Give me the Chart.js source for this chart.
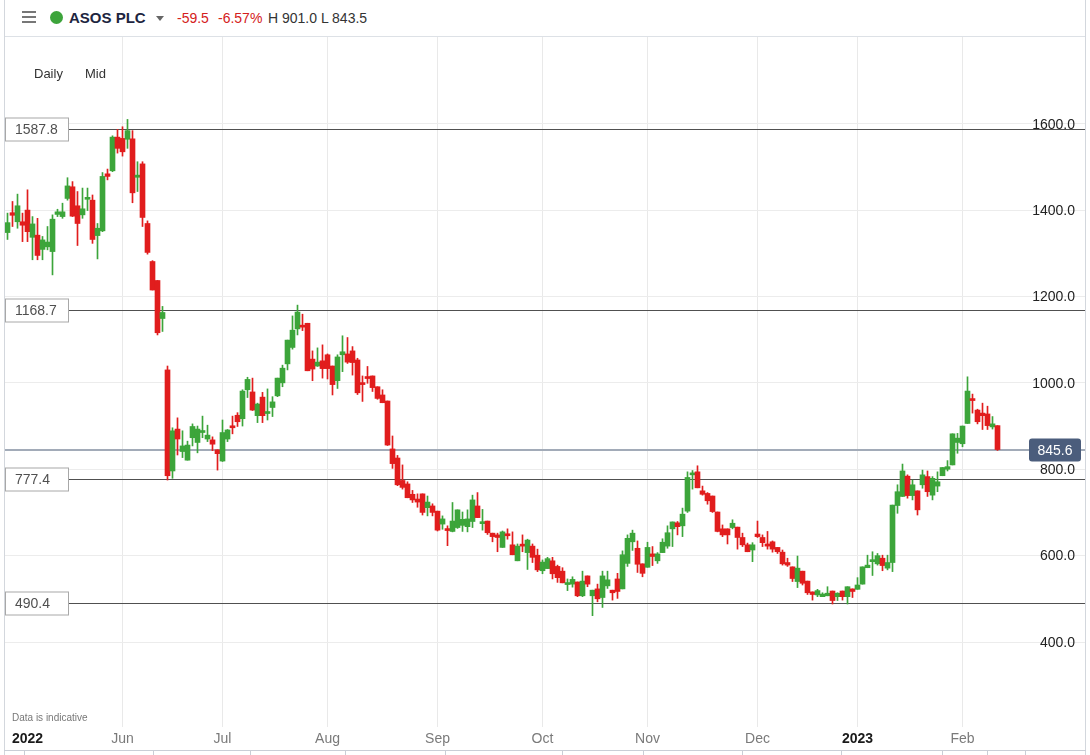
<!DOCTYPE html>
<html>
<head>
<meta charset="utf-8">
<script src="https://cdn.jsdelivr.net/npm/chart.js@4.4.1/dist/chart.umd.min.js"></script>
<style>
  html, body { margin:0; padding:0; }
  body { width:1090px; height:755px; overflow:hidden; background:#fff; position:relative;
         font-family:'Liberation Sans', Arial, Helvetica, sans-serif; }
  .abs { position:absolute; white-space:nowrap; }
  .t14 { font-size:14px; line-height:14px; }
</style>
</head>
<body>
<!-- header -->
<div class="abs" style="left:22px;top:11px;width:14px;height:2px;background:#777"></div>
<div class="abs" style="left:22px;top:16px;width:14px;height:2px;background:#777"></div>
<div class="abs" style="left:22px;top:21px;width:14px;height:2px;background:#777"></div>
<div class="abs" style="left:50px;top:10.5px;width:13px;height:13px;border-radius:50%;background:#3da43b"></div>
<div class="abs" style="left:69px;top:10px;font-size:15px;line-height:15px;font-weight:bold;color:#1d2540">ASOS PLC</div>
<div class="abs" style="left:156px;top:16px;width:0;height:0;border-left:4px solid transparent;border-right:4px solid transparent;border-top:5px solid #666"></div>
<div class="abs t14" style="left:177px;top:11px;color:#d42020">-59.5</div>
<div class="abs t14" style="left:218px;top:11px;color:#d42020">-6.57%</div>
<div class="abs t14" style="left:268px;top:11px;color:#333">H 901.0 L 843.5</div>
<div class="abs" style="left:4px;top:36px;width:1082px;height:1px;background:#dde1e6"></div>

<!-- chart -->
<div class="abs" style="left:0;top:37px;width:1090px;height:718px"><canvas id="c"></canvas></div>

<!-- overlays -->
<div class="abs" style="left:34px;top:67px;font-size:13px;line-height:13px;color:#333">Daily</div>
<div class="abs" style="left:85px;top:67px;font-size:13px;line-height:13px;color:#333">Mid</div>
<div class="abs" style="left:12px;top:713px;font-size:10px;line-height:10px;color:#777">Data is indicative</div>

<!-- frame borders -->
<div class="abs" style="left:4px;top:0;width:1px;height:755px;background:#d3d7dd"></div>
<div class="abs" style="left:1085px;top:0;width:1px;height:755px;background:#d3d7dd"></div>
<div class="abs" style="left:4px;top:750px;width:1082px;height:1px;background:#c9ced6"></div>
<div id="navticks"></div>

<script>
// ---------------- DATA ----------------
const symbol = 'ASOS PLC';
// trading sessions per month segment (first segment = late Apr/May 2022)
const monthNames = ['', 'Jun', 'Jul', 'Aug', 'Sep', 'Oct', 'Nov', 'Dec', '2023', 'Feb'];
const monthDays  = [23, 20, 21, 22, 21, 21, 22, 20, 21, 8];
const firstYearLabel = '2022';

const opens = [
 1348,1394,1373,1373,1400,1337,1342,1309,1315,1304,1390,1385,1427,1454,1410,1389,1425,1423,1341,1352,
 1484,1491,1569,1566,1564,1565,1476,1507,1369,1281,1237,1149,1030,796,893,841,821,873,862,885,
 870,868,845,819,870,900,925,917,984,979,924,967,929,943,970,1000,1044,1082,1125,1132,
 1138,1055,1039,1051,1065,1039,1005,1065,1067,1074,1053,1000,1014,1016,991,972,958,847,826,774,
 766,742,731,743,711,715,703,673,662,656,665,670,667,679,715,674,680,652,648,619,
 650,625,588,625,607,622,601,565,570,588,575,564,533,534,539,507,553,507,523,503,
 530,520,546,523,582,632,617,581,573,604,588,607,622,662,676,669,703,787,794,750,
 744,738,701,662,662,665,666,642,625,613,650,642,627,632,619,608,584,574,540,564,
 541,516,509,505,507,518,505,518,505,523,522,534,572,586,581,594,571,584,716,737,
 784,739,750,764,783,740,761,785,800,810,862,859,906,962,937,930,928,898,901
];
const highs = [
 1393,1420,1437,1393,1447,1385,1381,1339,1362,1389,1402,1416,1475,1466,1443,1451,1451,1435,1369,1487,
 1495,1572,1587,1593,1610,1584,1512,1512,1375,1283,1237,1177,1039,896,919,889,865,905,900,923,
 902,875,845,914,892,923,931,984,1013,1011,953,978,986,968,1011,1041,1099,1155,1180,1159,
 1138,1074,1081,1088,1067,1039,1065,1109,1105,1084,1057,1016,1038,1016,991,984,958,877,832,810,
 771,751,743,743,738,720,703,692,669,723,706,701,706,740,746,707,680,652,652,657,
 662,655,627,648,638,627,615,590,596,596,578,572,546,551,539,564,553,520,534,564,
 564,520,559,611,648,659,634,581,631,621,607,639,669,678,679,710,794,797,808,761,
 746,738,701,671,662,683,666,652,629,630,680,648,656,634,619,613,594,574,599,564,
 541,516,522,514,528,518,514,518,528,523,549,574,601,609,605,601,601,717,764,812,
 787,775,750,798,796,783,794,804,820,882,883,900,1014,974,939,953,946,922,901
];
const lows = [
 1332,1362,1358,1327,1327,1285,1285,1285,1308,1250,1385,1381,1423,1385,1318,1381,1399,1323,1287,1350,
 1470,1489,1532,1525,1543,1417,1443,1362,1298,1215,1111,1119,775,779,833,827,821,854,838,873,
 864,843,798,818,864,882,899,900,966,936,908,908,914,922,968,991,1030,1078,1111,1121,
 1028,1005,1038,1011,1009,972,987,1026,1045,1018,973,957,999,980,962,954,855,802,762,754,
 734,723,712,694,692,692,657,661,623,655,663,656,655,665,688,659,649,632,609,619,
 638,602,588,609,568,584,563,558,570,546,538,537,519,527,505,505,528,461,493,480,
 524,497,501,523,575,612,561,551,573,577,582,607,617,621,648,644,700,754,757,740,
 719,700,655,644,627,662,615,621,609,586,642,621,615,608,605,578,575,540,526,532,
 510,497,505,505,507,488,496,497,488,503,522,534,572,554,578,565,567,563,698,737,
 733,729,694,756,737,729,748,785,796,810,837,852,906,930,905,892,892,893,843.5
];
const closes = [
 1371,1388,1410,1365,1350,1368,1295,1331,1326,1379,1396,1396,1456,1386,1369,1403,1428,1332,1358,1478,
 1478,1569,1543,1535,1584,1440,1481,1383,1302,1215,1116,1163,785,889,870,854,856,899,893,889,
 879,858,836,885,891,896,910,981,1008,937,951,924,933,956,1011,1034,1099,1122,1164,1129,
 1028,1032,1048,1033,1033,996,1060,1072,1048,1047,977,996,1010,989,964,954,856,813,764,758,
 734,729,724,700,724,700,659,685,658,680,706,684,685,729,688,676,653,644,642,655,
 646,602,622,622,636,596,567,585,593,558,549,537,537,545,507,541,534,520,500,553,
 544,514,517,602,640,652,580,559,619,598,604,631,653,678,667,696,781,789,757,742,
 727,702,656,648,648,675,642,625,609,625,644,630,622,615,609,581,578,547,571,536,
 514,510,519,511,513,496,513,505,528,517,532,574,578,590,600,577,584,717,748,796,
 739,764,706,787,748,779,771,804,806,882,872,900,981,959,910,924,901,905.1,845.6
];
// reference levels drawn on the chart
const levelLines = [1587.8, 1168.7, 777.4, 490.4];
const lastPrice = 845.6;
const yTickValues = [400, 600, 800, 1000, 1200, 1400, 1600];

// ---------------- BUILD ----------------
const GREEN = '#3ca53a', RED = '#e11d1d';
const labels = [];
monthNames.forEach((m, mi) => {
  for (let d = 0; d < monthDays[mi]; d++) labels.push(d === 0 ? m : '');
});
const emptyRightSessions = 17;               // blank space to the right of the last candle
for (let i = 0; i < emptyRightSessions; i++) labels.push('');
const yearLabelIndex = 4;                     // where the first-year label sits
labels[yearLabelIndex] = firstYearLabel;

const colors = opens.map((o, i) => closes[i] >= o ? GREEN : RED);
const bodies = opens.map((o, i) => [o, closes[i]]);
const wicks  = lows.map((l, i) => [l, highs[i]]);

const FONT = "'Liberation Sans', Arial, Helvetica, sans-serif";

const levelsPlugin = {
  id: 'levels',
  beforeDatasetsDraw(chart) {
    const {ctx, chartArea: a, scales: {y}} = chart;
    ctx.save();
    ctx.beginPath(); ctx.rect(a.left, a.top, a.right - a.left, a.bottom - a.top); ctx.clip();
    // price tick labels (right side, inside plot)
    ctx.font = '14px ' + FONT;
    ctx.fillStyle = '#222'; ctx.textAlign = 'right'; ctx.textBaseline = 'middle';
    y.ticks.forEach(t => {
      ctx.fillText(Number(t.value).toFixed(1), a.right - 10, y.getPixelForValue(t.value) + 1);
    });
    ctx.strokeStyle = '#505050'; ctx.lineWidth = 1;
    levelLines.forEach(v => {
      const py = Math.round(y.getPixelForValue(v)) + 0.5;
      ctx.beginPath(); ctx.moveTo(a.left, py); ctx.lineTo(a.right, py); ctx.stroke();
    });
    const pp = Math.round(y.getPixelForValue(lastPrice));
    ctx.strokeStyle = '#a2abb8'; ctx.lineWidth = 2;
    ctx.beginPath(); ctx.moveTo(a.left, pp); ctx.lineTo(a.right, pp); ctx.stroke();
    ctx.restore();
  },
  afterDatasetsDraw(chart) {
    const {ctx, chartArea: a, scales: {y}} = chart;
    ctx.save();
    ctx.font = '14px ' + FONT;
    ctx.textBaseline = 'middle';
    levelLines.forEach(v => {
      const py = Math.round(y.getPixelForValue(v)) + 0.5;
      ctx.fillStyle = '#fff';
      ctx.fillRect(a.left + 0.5, py - 11.5, 63, 23);
      ctx.strokeStyle = '#a8a8a8'; ctx.lineWidth = 1;
      ctx.strokeRect(a.left + 0.5, py - 11.5, 63, 23);
      ctx.fillStyle = '#505050'; ctx.textAlign = 'left';
      ctx.fillText(v.toFixed(1), a.left + 10, py + 1);
    });
    const pp = Math.round(y.getPixelForValue(lastPrice));
    const bx = 1029, bw = 52, bh = 23;
    ctx.fillStyle = '#4b5d7c';
    ctx.beginPath();
    ctx.roundRect(bx, pp - bh / 2, bw, bh, 3);
    ctx.fill();
    ctx.fillStyle = '#fff'; ctx.textAlign = 'center';
    ctx.fillText(lastPrice.toFixed(1), bx + bw / 2, pp + 1);
    ctx.restore();
  }
};

new Chart(document.getElementById('c'), {
  type: 'bar',
  data: {
    labels,
    datasets: [
      { label: 'wick', data: wicks, backgroundColor: colors, barThickness: 1, grouped: false, order: 2, borderWidth: 0 },
      { label: 'body', data: bodies, backgroundColor: colors, barThickness: 5, grouped: false, order: 1, borderWidth: 0, minBarLength: 2 }
    ]
  },
  options: {
    responsive: true,
    maintainAspectRatio: false,
    animation: false,
    layout: { padding: { left: 5, right: 5, top: 0, bottom: 0 } },
    plugins: { legend: { display: false }, tooltip: { enabled: false } },
    scales: {
      x: {
        type: 'category',
        offset: true,
        grid: {
          offset: false, drawTicks: false,
          color: ctx => (ctx.tick && ctx.tick.label === firstYearLabel) ? 'rgba(0,0,0,0)' : '#e9e9e9'
        },
        border: { display: false },
        afterBuildTicks: s => { s.ticks = labels.map((l, i) => ({ value: i, l })).filter(t => t.l !== '').map(t => ({ value: t.value })); },
        afterFit: s => { s.height = 28; },
        ticks: {
          autoSkip: false, maxRotation: 0, minRotation: 0, padding: 4,
          color: ctx => /^\d{4}$/.test(ctx.tick.label) ? '#1a1a1a' : '#7a7a7a',
          font: ctx => ({ family: FONT, size: 14, weight: /^\d{4}$/.test(ctx.tick.label) ? 'bold' : 'normal' })
        }
      },
      y: {
        position: 'right',
        min: 203.2, max: 1800.8,
        afterBuildTicks: s => { s.ticks = yTickValues.map(v => ({ value: v })); },
        afterFit: s => { s.width = 0; },
        grid: { color: '#ececec', drawTicks: false },
        border: { display: false },
        ticks: { display: false }
      }
    }
  },
  plugins: [levelsPlugin]
});

// navigator tick marks at bottom strip
const nav = document.getElementById('navticks');
[24,153,250,345,445,562,643,742,841,942,987,1025].forEach(x => {
  const d = document.createElement('div');
  d.className = 'abs';
  d.style.cssText = `left:${x}px;top:750px;width:1px;height:5px;background:#c9ced6`;
  nav.appendChild(d);
});
</script>
</body>
</html>
